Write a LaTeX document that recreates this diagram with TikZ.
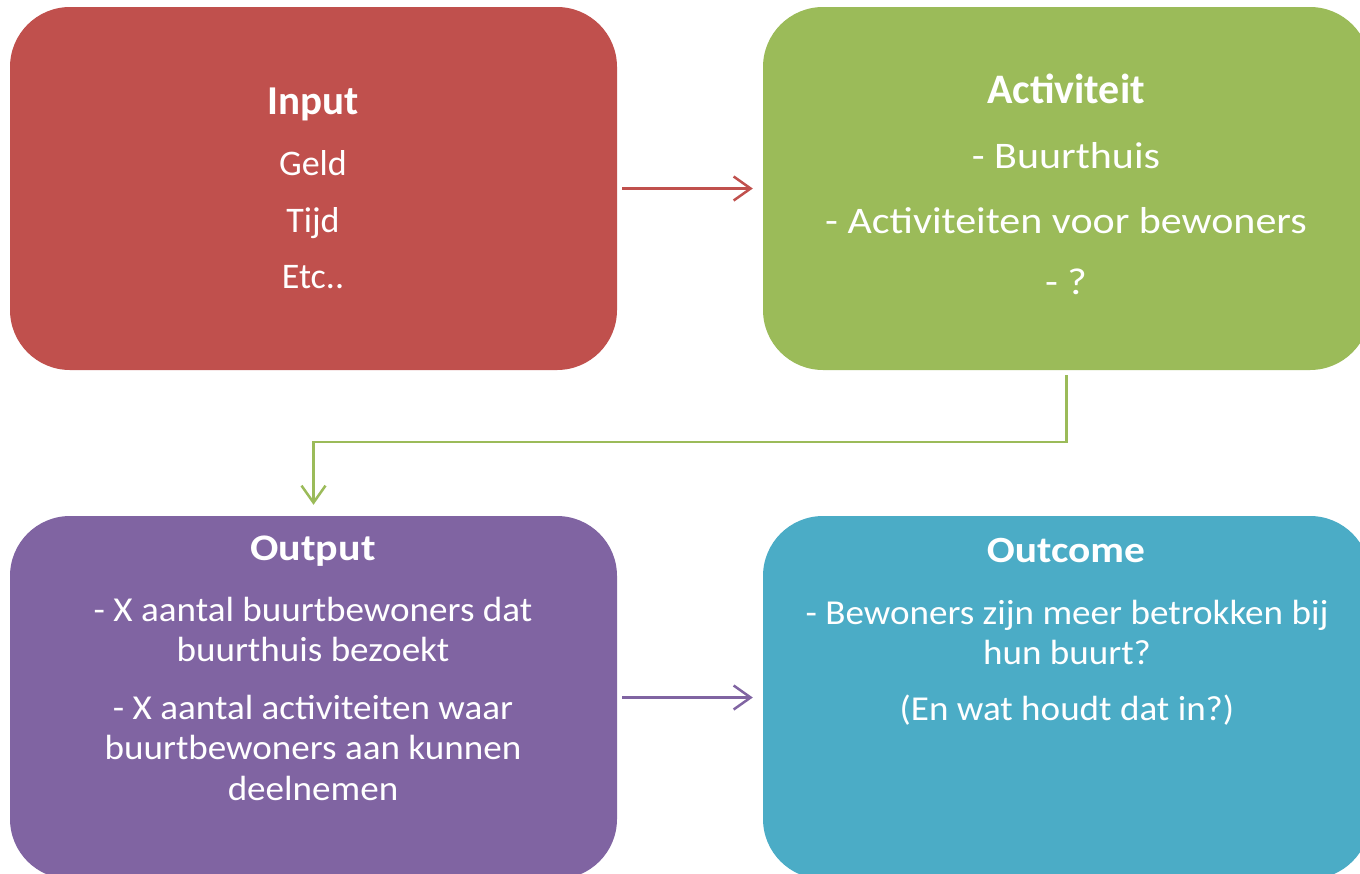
\documentclass[tikz,border=0pt]{standalone}
\usepackage{fontspec}
\setmainfont{Carlito}
\newfontfamily\fstA[FakeStretch=1.06]{Carlito}
\newfontfamily\fstB[FakeStretch=1.12]{Carlito}
\newfontfamily\fstC[FakeStretch=1.12]{Carlito}
\usetikzlibrary{arrows.meta}
\definecolor{cred}{HTML}{C0504D}
\definecolor{cgreen}{HTML}{9BBB59}
\definecolor{cpurple}{HTML}{8064A2}
\definecolor{cteal}{HTML}{4BACC6}
\tikzset{
  box/.style={rectangle, rounded corners=60pt, minimum width=607pt, minimum height=363pt, inner sep=0pt, draw=none},
  txt/.style={anchor=base, inner sep=0pt, text=white},
  conn/.style={line width=2.5pt, -{Straight Barb[length=17pt,width=24pt]}},
}
\begin{document}
\begin{tikzpicture}[x=1pt,y=-1pt]
\useasboundingbox (0,0) rectangle (1360,873);
\clip (0,0) rectangle (1360,873);
% boxes
\node[box, fill=cred] (red) at (313.5,188.5) {};
\node[box, fill=cgreen] (green) at (1066.5,188.5) {};
\node[box, fill=cpurple] (purple) at (313.5,697.5) {};
\node[box, fill=cteal] (teal) at (1066.5,697.5) {};
% red text
\node[txt] (t1) at (313,114) {\fontsize{41}{48}\selectfont\bfseries Input};
\node[txt] (t2) at (313,175) {\fontsize{36}{42}\selectfont Geld};
\node[txt] (t3) at (313,232) {\fontsize{36}{42}\selectfont Tijd};
\node[txt] (t4) at (313,288) {\fontsize{36}{42}\selectfont Etc..};
% green text
\node[txt] (g1) at (1066,103) {\fontsize{42}{48}\selectfont\bfseries Activiteit};
\node[txt] (g2) at (1066,168) {\fstB\fontsize{37.5}{44}\selectfont - Buurthuis};
\node[txt] (g3) at (1066,233) {\fstB\fontsize{37.5}{44}\selectfont - Activiteiten voor bewoners};
\node[txt] (g4) at (1066,294) {\fstB\fontsize{37.5}{44}\selectfont - ?};
% purple text
\node[txt] (p1) at (313,560) {\fstC\fontsize{37.5}{44}\selectfont\bfseries Output};
\node[txt] (p2) at (313,621.5) {\fstA\fontsize{35}{42}\selectfont - X aantal buurtbewoners dat};
\node[txt] (p3) at (313,661.5) {\fstA\fontsize{35}{42}\selectfont buurthuis bezoekt};
\node[txt] (p4) at (313,719) {\fstA\fontsize{35}{42}\selectfont - X aantal activiteiten waar};
\node[txt] (p5) at (313,759) {\fstA\fontsize{35}{42}\selectfont buurtbewoners aan kunnen};
\node[txt] (p6) at (313,800) {\fstA\fontsize{35}{42}\selectfont deelnemen};
% teal text
\node[txt] (o1) at (1066,562.5) {\fstC\fontsize{37}{44}\selectfont\bfseries Outcome};
\node[txt] (o2) at (1067,624) {\fstA\fontsize{35}{42}\selectfont - Bewoners zijn meer betrokken bij};
\node[txt] (o3) at (1067,664) {\fstA\fontsize{35}{42}\selectfont hun buurt?};
\node[txt] (o4) at (1067,720) {\fstA\fontsize{35}{42}\selectfont (En wat houdt dat in?)};
% connectors
\draw[conn, cred] ([xshift=5pt]red.east) -- ([xshift=-10pt]green.west);
\draw[conn, cpurple] ([xshift=5pt]purple.east) -- ([xshift=-10pt]teal.west);
\draw[conn, cgreen] ([yshift=-5pt]green.south) -- ++(0,67) -| ([yshift=11pt]purple.north);
\end{tikzpicture}
\end{document}
